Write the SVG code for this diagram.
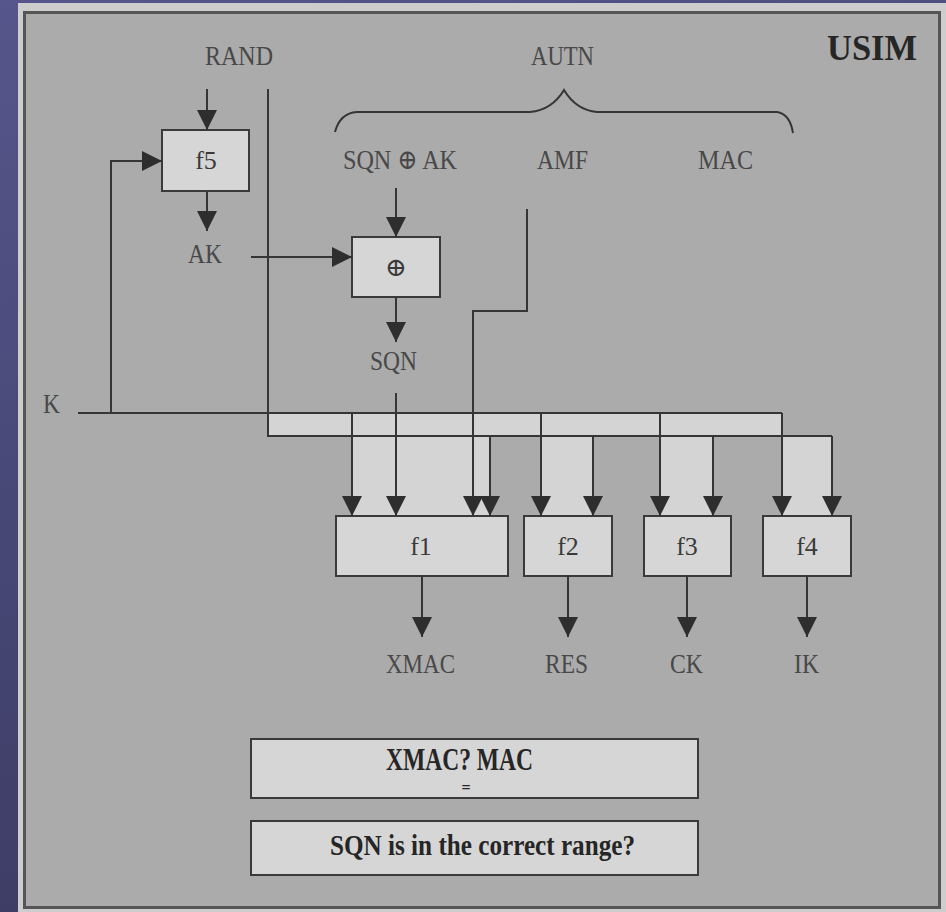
<svg xmlns="http://www.w3.org/2000/svg" width="946" height="912" viewBox="0 0 946 912">
<defs>
  <linearGradient id="bg" x1="0" y1="0" x2="0.3" y2="1">
    <stop offset="0" stop-color="#56568c"/>
    <stop offset="1" stop-color="#3b3b63"/>
  </linearGradient>
  <marker id="ah" viewBox="0 0 20 20" refX="20" refY="10" markerWidth="20" markerHeight="20" markerUnits="userSpaceOnUse" orient="auto">
    <path d="M0,0 L20,10 L0,20 z" fill="#2e2e2e"/>
  </marker>
  <style>
    .ln{fill:none;stroke:#353535;stroke-width:2}
    .arr{fill:none;stroke:#353535;stroke-width:2;marker-end:url(#ah)}
    .box{fill:#d6d6d6;stroke:#3a3a3a;stroke-width:2}
    .lt{fill:#d4d4d4}
    .lbl{font-family:"Liberation Serif","DejaVu Serif",serif;font-size:28px;fill:#484848}
    .fn{font-family:"Liberation Serif","DejaVu Serif",serif;font-size:26px;fill:#3a3a3a;text-anchor:middle}
    .bld{font-family:"Liberation Serif","DejaVu Serif",serif;font-weight:bold;fill:#262626}
  </style>
</defs>
<rect x="0" y="0" width="946" height="912" fill="url(#bg)"/>
<rect x="18" y="3" width="928" height="909" fill="#cdcdcd"/>
<rect x="24.5" y="12.5" width="915" height="895" fill="#ababab" stroke="#555" stroke-width="3"/>

<g id="bus-fill">
  <rect class="lt" x="268" y="413" width="514" height="23"/>
  <rect class="lt" x="352" y="436" width="138" height="80"/>
  <rect class="lt" x="541" y="436" width="52" height="80"/>
  <rect class="lt" x="660" y="436" width="53" height="80"/>
  <rect class="lt" x="782" y="436" width="50" height="80"/>
</g>

<g id="labels">
  <text id="RAND" class="lbl" x="205" y="65" textLength="68" lengthAdjust="spacingAndGlyphs">RAND</text>
  <text id="AUTN" class="lbl" x="531" y="65" textLength="63" lengthAdjust="spacingAndGlyphs">AUTN</text>
  <text id="USIM" class="bld" x="827" y="60" font-size="36" textLength="90" lengthAdjust="spacingAndGlyphs">USIM</text>
  <text id="SQNxorAK" class="lbl" x="343" y="169" textLength="114" lengthAdjust="spacingAndGlyphs">SQN ⊕ AK</text>
  <text id="AMF" class="lbl" x="537" y="169" textLength="51" lengthAdjust="spacingAndGlyphs">AMF</text>
  <text id="MAC" class="lbl" x="698" y="169" textLength="55" lengthAdjust="spacingAndGlyphs">MAC</text>
  <text id="AK" class="lbl" x="188" y="263" textLength="34" lengthAdjust="spacingAndGlyphs">AK</text>
  <text id="SQN" class="lbl" x="370" y="370" textLength="47" lengthAdjust="spacingAndGlyphs">SQN</text>
  <text id="K" class="lbl" x="43" y="413" textLength="17" lengthAdjust="spacingAndGlyphs">K</text>
  <text id="XMAC" class="lbl" x="386" y="673" textLength="69" lengthAdjust="spacingAndGlyphs">XMAC</text>
  <text id="RES" class="lbl" x="545" y="673" textLength="43" lengthAdjust="spacingAndGlyphs">RES</text>
  <text id="CK" class="lbl" x="670" y="673" textLength="33" lengthAdjust="spacingAndGlyphs">CK</text>
  <text id="IK" class="lbl" x="794" y="673" textLength="25" lengthAdjust="spacingAndGlyphs">IK</text>
</g>

<path id="brace" class="ln" d="M335,132 Q340,113 357,112 L530,112 Q552,110 564,90 Q576,110 597,112 L777,112 Q790,114 793,133"/>

<g id="f5"><rect class="box" x="162" y="130" width="87" height="61"/><text class="fn" x="206" y="169">f5</text></g>
<g id="xor"><rect class="box" x="352" y="237" width="88" height="60"/><text class="fn" x="396" y="276">⊕</text></g>
<g id="f1"><rect class="box" x="336" y="516" width="172" height="60"/><text class="fn" x="421" y="555">f1</text></g>
<g id="f2"><rect class="box" x="524" y="516" width="88" height="60"/><text class="fn" x="568" y="555">f2</text></g>
<g id="f3"><rect class="box" x="644" y="516" width="87" height="60"/><text class="fn" x="687" y="555">f3</text></g>
<g id="f4"><rect class="box" x="763" y="516" width="88" height="60"/><text class="fn" x="807" y="555">f4</text></g>

<g id="check-mac">
  <rect class="box" x="251" y="739" width="447" height="59"/>
  <text class="bld" x="386" y="770" font-size="32" textLength="147" lengthAdjust="spacingAndGlyphs">XMAC? MAC</text>
  <text class="bld" x="466" y="793" font-size="16" text-anchor="middle">=</text>
</g>
<g id="check-sqn">
  <rect class="box" x="251" y="821" width="447" height="54"/>
  <text class="bld" x="330" y="855" font-size="30" textLength="305" lengthAdjust="spacingAndGlyphs">SQN is in the correct range?</text>
</g>

<g id="connectors">
  <line class="arr" x1="207" y1="89" x2="207" y2="130"/>
  <line class="arr" x1="207" y1="191" x2="207" y2="231"/>
  <line class="arr" x1="251" y1="257" x2="352" y2="257"/>
  <line class="arr" x1="396" y1="188" x2="396" y2="237"/>
  <line class="arr" x1="396" y1="297" x2="396" y2="342"/>
  <polyline class="arr" points="111,413 111,161 162,161"/>
  <polyline class="ln" points="78,413 782,413"/>
  <polyline class="ln" points="268,89 268,436 832,436"/>
  <line class="arr" x1="352" y1="413" x2="352" y2="516"/>
  <line class="arr" x1="396" y1="393" x2="396" y2="516"/>
  <polyline class="arr" points="527,209 527,311 473,311 473,516"/>
  <line class="arr" x1="490" y1="436" x2="490" y2="516"/>
  <line class="arr" x1="541" y1="413" x2="541" y2="516"/>
  <line class="arr" x1="593" y1="436" x2="593" y2="516"/>
  <line class="arr" x1="660" y1="413" x2="660" y2="516"/>
  <line class="arr" x1="713" y1="436" x2="713" y2="516"/>
  <line class="arr" x1="782" y1="413" x2="782" y2="516"/>
  <line class="arr" x1="832" y1="436" x2="832" y2="516"/>
  <line class="arr" x1="422" y1="576" x2="422" y2="637"/>
  <line class="arr" x1="568" y1="576" x2="568" y2="637"/>
  <line class="arr" x1="687" y1="576" x2="687" y2="637"/>
  <line class="arr" x1="807" y1="576" x2="807" y2="637"/>
</g>
</svg>
